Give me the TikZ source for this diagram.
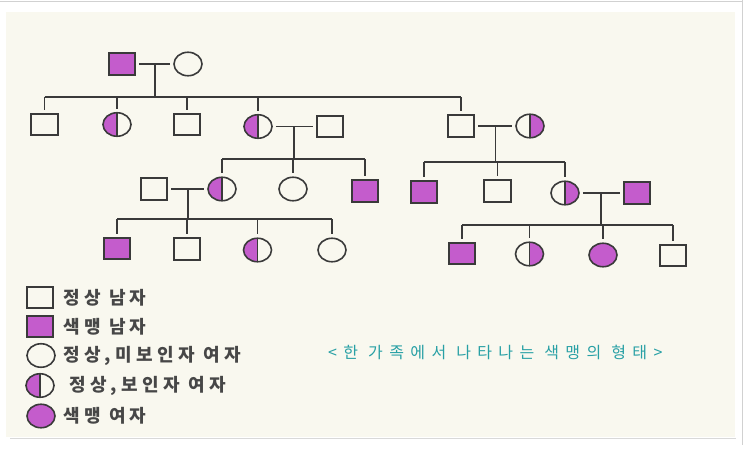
\documentclass[tikz,border=0pt]{standalone}
\usepackage{fontspec}
\newfontfamily\kr{Noto Sans CJK KR}
\usepackage{tikz}
\usetikzlibrary{calc,shapes.geometric}
\usepackage{xcolor}
\definecolor{cbfill}{RGB}{196,92,204}
\definecolor{pedline}{RGB}{58,58,58}
\definecolor{paper}{RGB}{249,248,239}
\definecolor{capcol}{RGB}{40,160,165}
\newcommand{\person}[4]{\node[#2] (#1) at (#3,#4) {};}
\newcommand{\couple}[3]{\draw[pedlink,shorten <=3pt,shorten >=3pt] (#1) -- (#2); \coordinate (#3) at ($(#1)!0.5!(#2)$);}
\newcommand{\drop}[2]{\draw[pedlink,shorten >=3pt] (#1 |- #2) -- (#1);}
\newcommand{\sibs}[3]{\draw[pedlink] (#1 |- #3) -- (#2 |- #3);}
\tikzset{
        pedbase/.style={draw=pedline,line width=1.6pt,inner sep=0pt},
        pedlink/.style={draw=pedline,line width=1.7pt},
        male/.style={pedbase,rectangle,minimum width=26.5pt,minimum height=21.5pt},
        cbmale/.style={male,fill=cbfill},
        female/.style={pedbase,ellipse,minimum width=28pt,minimum height=23.5pt},
        cbfemale/.style={female,fill=cbfill},
        carrierL/.style={female,path picture={
                \fill[cbfill] (path picture bounding box.south west) rectangle (path picture bounding box.north);
                \draw[pedline,line width=1.6pt] (path picture bounding box.south) -- (path picture bounding box.north);}},
        carrierR/.style={female,path picture={
                \fill[cbfill] (path picture bounding box.south) rectangle (path picture bounding box.north east);
                \draw[pedline,line width=1.6pt] (path picture bounding box.south) -- (path picture bounding box.north);}},
        legtxt/.style={anchor=west,inner sep=0pt,text=black!72,font=\kr\bfseries\fontsize{18}{18}\selectfont\addfontfeature{LetterSpace=24}},
        captxt/.style={anchor=west,inner sep=0pt,text=capcol,font=\kr\fontsize{16}{16}\selectfont\addfontfeature{LetterSpace=40}}
}

\begin{document}
\begin{tikzpicture}[x=1pt,y=-1pt]
        \useasboundingbox (0,0) rectangle (743,450);
        \fill[white] (0,0) rectangle (743,450);
        \fill[paper] (6,12) rectangle (735,437);
        \draw[black!18,line width=1pt] (0,1) -- (743,1);
        \draw[black!18,line width=1pt] (742,0) -- (742,445);
        \draw[black!15,line width=1pt] (10,438) -- (736,438);

        \person{I1}{cbmale}{122}{64}
        \person{I2}{female}{188}{64}
        \couple{I1}{I2}{m1}
        \coordinate (s1) at (0,97);
        \draw[pedlink] (m1) -- (m1 |- s1);

        \person{II1}{male}{44.5}{124.5}
        \person{II2}{carrierL}{117}{124.5}
        \person{II3}{male}{187}{124.5}
        \person{II4}{carrierL}{258}{126.5}
        \person{II4s}{male}{330}{126.5}
        \person{II5}{male}{461}{126}
        \person{II6}{carrierR}{530}{126}
        \sibs{II1}{II5}{s1}
        \drop{II1}{s1}
        \drop{II2}{s1}
        \drop{II3}{s1}
        \drop{II4}{s1}
        \drop{II5}{s1}

        \couple{II4}{II4s}{m2}
        \coordinate (s2) at (0,159);
        \draw[pedlink] (m2) -- (m2 |- s2);
        \couple{II5}{II6}{m3}
        \coordinate (s3) at (0,162);
        \draw[pedlink] (m3) -- (m3 |- s3);

        \person{III1}{male}{154}{189}
        \person{III2}{carrierL}{222}{189}
        \person{III3}{female}{293}{189}
        \person{III4}{cbmale}{365}{191}
        \sibs{III2}{III4}{s2}
        \drop{III2}{s2}
        \drop{III3}{s2}
        \drop{III4}{s2}

        \person{III5}{cbmale}{424}{192}
        \person{III6}{male}{497.5}{191}
        \person{III7}{carrierR}{565}{193}
        \person{III7s}{cbmale}{637}{193}
        \sibs{III5}{III7}{s3}
        \drop{III5}{s3}
        \drop{III6}{s3}
        \drop{III7}{s3}

        \couple{III1}{III2}{m4}
        \coordinate (s4) at (0,219);
        \draw[pedlink] (m4) -- (m4 |- s4);
        \couple{III7}{III7s}{m5}
        \coordinate (s5) at (0,225);
        \draw[pedlink] (m5) -- (m5 |- s5);

        \person{IV1}{cbmale}{117}{248.5}
        \person{IV2}{male}{187}{249}
        \person{IV3}{carrierL}{257.5}{250}
        \person{IV4}{female}{332}{250}
        \sibs{IV1}{IV4}{s4}
        \drop{IV1}{s4}
        \drop{IV2}{s4}
        \drop{IV3}{s4}
        \drop{IV4}{s4}

        \person{IV5}{cbmale}{462}{253.5}
        \person{IV6}{carrierR}{529.5}{254}
        \person{IV7}{cbfemale}{603}{255}
        \person{IV8}{male}{673}{255.5}
        \sibs{IV5}{IV8}{s5}
        \drop{IV5}{s5}
        \drop{IV6}{s5}
        \drop{IV7}{s5}
        \drop{IV8}{s5}

        \person{L1}{male}{40}{297.5}
        \person{L2}{cbmale}{40}{326.5}
        \person{L3}{female}{41}{355.5}
        \person{L4}{carrierL}{40}{385.5}
        \person{L5}{cbfemale}{41}{416}
\node[legtxt] (t1) at (63,297.5) {정상 남자};
\node[legtxt] (t2) at (63,326.5) {색맹 남자};
\node[legtxt] (t3) at (63,355.5) {정상,미보인자 여자};
\node[legtxt] (t4) at (69,385.5) {정상,보인자 여자};
\node[legtxt] (t5) at (63,416) {색맹 여자};

\node[captxt] (cap) at (328,352) {<한 가족에서 나타나는 색맹의 형태>};
    \end{tikzpicture}
\end{document}
